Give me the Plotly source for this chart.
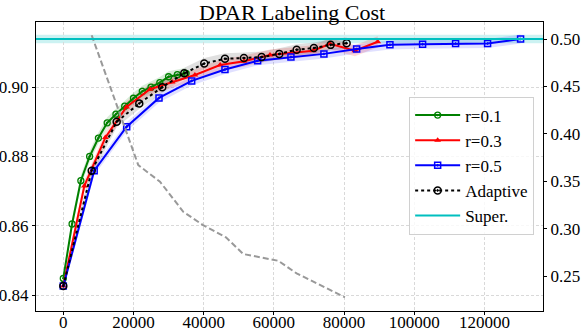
import plotly.graph_objects as go

# ---------------- data ----------------
r01_x = [0, 2500, 5000, 7500, 10000, 12500, 15000, 17500, 20000, 22500, 25000, 27500, 30000, 32500, 35000]
r01_y = [0.8448, 0.8605, 0.8730, 0.8800, 0.8853, 0.8897, 0.8922, 0.8945, 0.8968, 0.8988, 0.9000, 0.9013, 0.9030, 0.9036, 0.9040]

r03_x = [0, 6000, 12000, 18000, 24700, 31000, 37500, 44700, 51500, 58900, 65000, 71200, 76000, 83100, 89600]
r03_y = [0.8426, 0.8715, 0.8855, 0.8943, 0.8994, 0.9015, 0.9035, 0.9064, 0.9075, 0.9093, 0.9100, 0.9105, 0.9125, 0.9105, 0.9131]

r05_x = [0, 8800, 18060, 27270, 36580, 46070, 55380, 64870, 74270, 83590, 93080, 102390, 111790, 120910, 130310]
r05_y = [0.8426, 0.8759, 0.8886, 0.8969, 0.9018, 0.9051, 0.9076, 0.9087, 0.9096, 0.9110, 0.9122, 0.9124, 0.9126, 0.9126, 0.9139]

ada_x = [0, 8090, 15210, 21650, 28200, 34470, 40170, 46070, 51480, 56520, 61540, 66500, 71420, 76180, 80740]
ada_y = [0.8426, 0.8759, 0.8900, 0.8953, 0.9000, 0.9040, 0.9068, 0.9082, 0.9084, 0.9087, 0.9096, 0.9108, 0.9113, 0.9122, 0.9127]

cost_x = [8090, 15210, 21370, 27550, 34190, 39800, 46350, 51280, 56520, 61250, 66490, 71420, 76180, 80260]
cost_y = [0.504, 0.431, 0.367, 0.3495, 0.3178, 0.3038, 0.2908, 0.2732, 0.2695, 0.2661, 0.2528, 0.2438, 0.2350, 0.2275]

super_y = 0.9139

# band half-widths (spread) per series
r01_sd = 0.0016
r03_sd = 0.0016
r05_sd = 0.0013
ada_sd = 0.0016
super_sd = 0.0012

x_ticks = [0, 20000, 40000, 60000, 80000, 100000, 120000]
yl_ticks = [0.84, 0.86, 0.88, 0.90]
yr_ticks = [0.25, 0.30, 0.35, 0.40, 0.45, 0.50]

X_RANGE = [-7780, 136700]
YL_RANGE = [0.8354, 0.9188]
YR_RANGE = [0.2131, 0.518]

FONT = "Liberation Serif"
TICK = dict(family=FONT, size=17, color="black")

fig = go.Figure()

def band(xs, ys, sd, color):
    upper = [v + sd for v in ys]
    lower = [v - sd for v in ys]
    fig.add_trace(go.Scatter(x=list(xs) + list(xs)[::-1], y=upper + lower[::-1],
                             fill="toself", fillcolor=color, line=dict(width=0),
                             mode="lines", hoverinfo="skip", showlegend=False))

band(r01_x, r01_y, r01_sd, "rgba(0,128,0,0.15)")
band(r03_x, r03_y, r03_sd, "rgba(255,0,0,0.15)")
band(r05_x, r05_y, r05_sd, "rgba(0,0,255,0.12)")
band(ada_x, ada_y, ada_sd, "rgba(0,0,0,0.12)")

# Super band + line as shapes spanning full width
fig.add_shape(type="rect", xref="paper", x0=0, x1=1, yref="y",
              y0=super_y - super_sd, y1=super_y + super_sd,
              fillcolor="rgba(0,191,191,0.2)", line=dict(width=0), layer="below")
fig.add_shape(type="line", xref="paper", x0=0, x1=1, yref="y",
              y0=super_y, y1=super_y, line=dict(color="#00BFBF", width=1.8))

fig.add_trace(go.Scatter(x=r01_x, y=r01_y, name="r=0.1", mode="lines+markers",
                         line=dict(color="green", width=2),
                         marker=dict(symbol="circle-open-dot", size=6, color="green", line=dict(width=1.3))))
fig.add_trace(go.Scatter(x=r03_x, y=r03_y, name="r=0.3", mode="lines+markers",
                         line=dict(color="red", width=2),
                         marker=dict(symbol="triangle-up", size=6, color="red")))
fig.add_trace(go.Scatter(x=r05_x, y=r05_y, name="r=0.5", mode="lines+markers",
                         line=dict(color="blue", width=2),
                         marker=dict(symbol="square-open-dot", size=6, color="blue", line=dict(width=1.5))))
fig.add_trace(go.Scatter(x=ada_x, y=ada_y, name="Adaptive", mode="lines+markers",
                         line=dict(color="black", width=2, dash="dot"),
                         marker=dict(symbol="circle-open-dot", size=7, color="black", line=dict(width=1.5))))
fig.add_trace(go.Scatter(x=[None], y=[None], name="Super.", mode="lines",
                         line=dict(color="#00BFBF", width=1.8)))

fig.add_trace(go.Scatter(x=cost_x, y=cost_y, yaxis="y2", mode="lines", showlegend=False,
                         line=dict(color="#999999", width=2, dash="6px,3px")))

GRID = dict(showgrid=True, gridcolor="#d9d9d9", griddash="3px,2px", gridwidth=1)

fig.update_layout(
    width=584, height=332,
    margin=dict(l=36, r=41, t=22, b=21, autoexpand=False),
    paper_bgcolor="white", plot_bgcolor="white",
    font=dict(family=FONT, size=17, color="black"),
    title=dict(text="DPAR Labeling Cost", x=0.5, xanchor="center", y=0.962, yanchor="middle",
               font=dict(family=FONT, size=22, color="black")),
    xaxis=dict(range=X_RANGE, tickvals=x_ticks, ticktext=[str(v) for v in x_ticks], automargin=False,
               showline=True, linecolor="black", linewidth=1.2, mirror=True,
               ticks="outside", ticklen=3, tickcolor="black", zeroline=False,
               ticklabelstandoff=-8, tickfont=TICK, **GRID),
    yaxis=dict(range=YL_RANGE, tickvals=yl_ticks, ticktext=[f"{v:.2f}" for v in yl_ticks], automargin=False,
               showline=True, linecolor="black", linewidth=1.2, mirror=True,
               ticks="outside", ticklen=3, tickcolor="black", zeroline=False,
               tickfont=TICK, **GRID),
    yaxis2=dict(range=YR_RANGE, tickvals=yr_ticks, ticktext=[f"{v:.2f}" for v in yr_ticks], automargin=False,
                overlaying="y", side="right", showgrid=False, zeroline=False,
                showline=True, linecolor="black", linewidth=1.2,
                ticks="outside", ticklen=3, tickcolor="black",
                tickfont=TICK),
    legend=dict(x=0.736, y=0.742, xanchor="left", yanchor="top",
                bgcolor="rgba(255,255,255,0.8)", bordercolor="#d0d0d0", borderwidth=1,
                font=dict(family=FONT, size=17), tracegroupgap=0, itemwidth=45),
    showlegend=True,
)

fig.write_html("out.html", config={"displayModeBar": False},
               post_script="document.body.style.margin='0';document.body.style.padding='0';")
